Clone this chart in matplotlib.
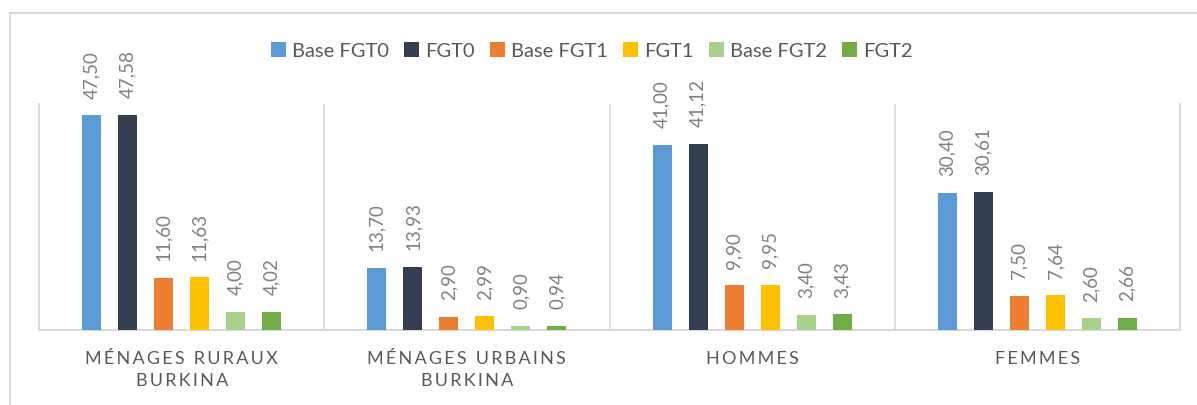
import matplotlib.pyplot as plt
import numpy as np
from matplotlib.patches import Rectangle

categories = ["MÉNAGES RURAUX\nBURKINA", "MÉNAGES URBAINS\nBURKINA", "HOMMES", "FEMMES"]
series_names = ["Base FGT0", "FGT0", "Base FGT1", "FGT1", "Base FGT2", "FGT2"]
base_fgt0 = [47.50, 13.70, 41.00, 30.40]
fgt0 = [47.58, 13.93, 41.12, 30.61]
base_fgt1 = [11.60, 2.90, 9.90, 7.50]
fgt1 = [11.63, 2.99, 9.95, 7.64]
base_fgt2 = [4.00, 0.90, 3.40, 2.60]
fgt2 = [4.02, 0.94, 3.43, 2.66]

colors = ["#5B9BD5", "#333F50", "#ED7D31", "#FFC000", "#A9D18E", "#70AD47"]
FONT = ["Lato", "DejaVu Sans"]
plt.rcParams['font.family'] = FONT

def spaced(s):  # imitate letter spacing
    return "\n".join("\u2009".join(line) for line in s.split("\n"))

fig = plt.figure(figsize=(11.97, 4.05), dpi=100)
# chart frame
fig.patches.append(Rectangle((10 / 1197, -0.2), 1.2, 1.2 - 13 / 405, transform=fig.transFigure,
                             fill=False, edgecolor="#D9D9D9", lw=1.5, zorder=0))
ax = fig.add_axes([39 / 1197, 1 - 330 / 405, (1180 - 39) / 1197, (330 - 104) / 405])

data = [base_fgt0, fgt0, base_fgt1, fgt1, base_fgt2, fgt2]
x = np.arange(len(categories))
step = 0.1263
width = 0.0667
for i, vals in enumerate(data):
    xs = x + (i - 2.5) * step
    ax.bar(xs, vals, width, color=colors[i], label=series_names[i], zorder=3)
    for xx, v in zip(xs, vals):
        ax.annotate(f"{v:.2f}".replace(".", ","), (xx, v), xytext=(0, 12), textcoords="offset points",
                    rotation=90, ha="center", va="bottom", fontsize=13.5, color="#808080")

ax.set_xlim(-0.5, 3.5)
ax.set_ylim(0, 50)
ax.set_yticks([])
ax.set_xticks(x)
ax.set_xticklabels([spaced(c) for c in categories], fontsize=13, color="#595959", linespacing=1.45)
ax.tick_params(axis="x", length=0, pad=15)
for b in [0.5, 1.5, 2.5]:
    ax.axvline(b, color="#D9D9D9", lw=1.2, zorder=1)
for s in ["left", "right", "bottom"]:
    ax.spines[s].set_color("#D9D9D9")
    ax.spines[s].set_linewidth(1.5)
ax.spines["top"].set_visible(False)

fig.legend(loc="center", bbox_to_anchor=(592 / 1197, 1 - 51 / 405), ncol=6, frameon=False,
           fontsize=14.5, handlelength=0.75, handleheight=0.75, handletextpad=0.3,
           columnspacing=0.75, labelcolor="#595959")

fig.savefig("out.png", dpi=100)
